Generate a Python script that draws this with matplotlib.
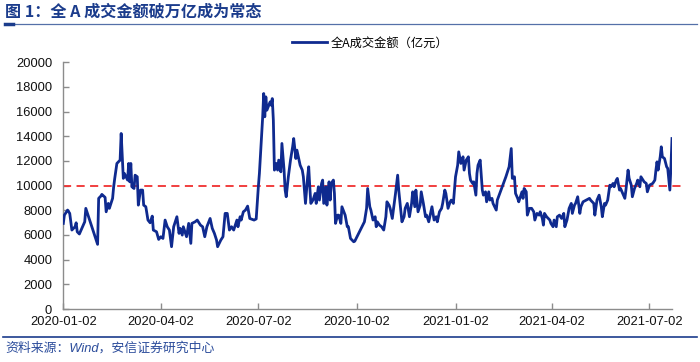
import matplotlib
matplotlib.use("Agg")
import matplotlib.pyplot as plt
from matplotlib.lines import Line2D
import pandas as pd

# ---------------- data ----------------
dates_2020 = [
    "01-02", "01-03", "01-06", "01-08", "01-10", "01-13", "01-14", "01-15", "01-17", "01-20", "01-22", "01-23",
    "02-03", "02-04", "02-06", "02-07", "02-10", "02-11", "02-13", "02-14", "02-17", "02-18", "02-19", "02-21",
    "02-24", "02-25", "02-26", "02-27", "02-28",
    "03-02", "03-03", "03-04", "03-05", "03-06", "03-08", "03-09", "03-11", "03-12", "03-14", "03-16", "03-17",
    "03-19", "03-21", "03-23", "03-25", "03-26", "03-29", "03-31",
    "04-02", "04-04", "04-06", "04-08", "04-10", "04-12", "04-14", "04-17", "04-19", "04-20", "04-22", "04-23",
    "04-26", "04-28", "04-30",
    "05-01", "05-04", "05-06", "05-09", "05-11", "05-13", "05-15", "05-18", "05-20", "05-22", "05-24", "05-25",
    "05-28", "05-30",
    "06-01", "06-03", "06-05", "06-07", "06-09", "06-12", "06-13", "06-15", "06-16", "06-18", "06-20", "06-22",
    "06-24", "06-28", "06-30",
    "07-02", "07-03", "07-06", "07-07", "07-08", "07-09", "07-10", "07-13", "07-14", "07-15", "07-16", "07-17",
    "07-19", "07-20", "07-21", "07-23", "07-24", "07-26", "07-27", "07-28", "07-30",
    "08-01", "08-03", "08-04", "08-06", "08-07", "08-09", "08-10", "08-12", "08-13", "08-15", "08-17", "08-18",
    "08-19", "08-20", "08-22", "08-24", "08-25", "08-27", "08-28", "08-30", "08-31",
    "09-01", "09-03", "09-04", "09-06", "09-07", "09-08", "09-10", "09-11", "09-12", "09-14", "09-15", "09-17",
    "09-18", "09-21", "09-23", "09-24", "09-26", "09-29", "09-30",
    "10-09", "10-11", "10-12", "10-14", "10-15", "10-17", "10-19", "10-20", "10-21", "10-23", "10-25", "10-27",
    "10-29", "10-30",
    "11-01", "11-02", "11-04", "11-06", "11-07", "11-09", "11-10", "11-13", "11-15", "11-16", "11-18", "11-20",
    "11-22", "11-23", "11-25", "11-26", "11-28", "11-30",
    "12-01", "12-03", "12-05", "12-06", "12-08", "12-10", "12-11", "12-13", "12-15", "12-16", "12-18", "12-20",
    "12-21", "12-23", "12-24", "12-26", "12-28", "12-29", "12-31",
]
values_2020 = [
    6940, 7610, 8020, 7750, 6400, 6670, 6990, 6260, 6080, 6670, 7070, 8160,
    5240, 8970, 9150, 9290, 9050, 7880, 8560, 8160, 8970, 9910, 10590, 11800,
    12070, 14230, 12340, 10590, 10990,
    10450, 11800, 10310, 11800, 9910, 9770, 10850, 10720, 8420, 9640, 9640, 8420,
    8290, 7210, 6990, 7530, 6400, 6260, 5640,
    5860, 5720, 7210, 6670, 6400, 5050, 6670, 7480, 6130, 6540, 5990, 6670,
    5860, 6940, 5320,
    6940, 7070, 7210, 6800, 6670, 5860, 6670, 7340, 6540, 6130, 5590, 5050,
    5590, 5860,
    7750, 7750, 6400, 6670, 6400, 7210, 6670, 7480, 7210, 7880, 8020, 8340,
    7340, 7210, 7300,
    9900, 11000, 15500, 17470, 15580, 17200, 16120, 16790, 16520, 17060, 15310, 11260,
    11800, 11260, 12070, 11120, 13420, 11260, 9640, 9100, 10720,
    12070, 13150, 13820, 12200, 12880, 12070, 11660, 11260, 10720, 8560, 10720, 11530,
    9910, 8560, 8830, 9370, 8560, 9910, 8830, 10180, 10450,
    8560, 9910, 8420, 10310, 8830, 10180, 10450, 9370, 6940, 7610, 7610, 6940,
    8290, 7610, 6670, 6670, 5720, 5450, 5500,
    7070, 8160, 9770, 8290, 8020, 7210, 7480, 6670, 7070, 6800, 6670, 6400,
    7480, 8690,
    8420, 8160, 7340, 8690, 9370, 10850, 9640, 7070, 7480, 8160, 8560, 7480,
    8560, 9500, 8290, 9640, 7880, 8420,
    9500, 8560, 7480, 7610, 7070, 7880, 8290, 7210, 7480, 7070, 7880, 8160,
    8560, 9640, 9370, 8160, 8690, 8830, 8560,
]
dates_2021 = [
    "01-02", "01-04", "01-05", "01-07", "01-09", "01-10", "01-12", "01-14", "01-15", "01-16", "01-18", "01-19",
    "01-21", "01-22", "01-23", "01-25", "01-27", "01-28", "01-30", "01-31",
    "02-02", "02-03", "02-05", "02-06", "02-09", "02-10", "02-18", "02-19", "02-21", "02-23", "02-24", "02-26",
    "02-27",
    "03-01", "03-02", "03-04", "03-05", "03-06", "03-07", "03-09", "03-10", "03-12", "03-14", "03-16", "03-17",
    "03-19", "03-21", "03-22", "03-24", "03-25", "03-26", "03-28", "03-31",
    "04-01", "04-03", "04-04", "04-06", "04-07", "04-09", "04-11", "04-13", "04-14", "04-16", "04-18", "04-20",
    "04-21", "04-23", "04-24", "04-26", "04-28", "04-29",
    "05-01", "05-04", "05-07", "05-08", "05-11", "05-12", "05-14", "05-16", "05-18", "05-19", "05-21", "05-22",
    "05-24", "05-26", "05-27", "05-29", "05-30",
    "06-01", "06-02", "06-04", "06-05", "06-07", "06-09", "06-10", "06-12", "06-13", "06-15", "06-16", "06-18",
    "06-20", "06-21", "06-23", "06-24", "06-26", "06-27", "06-29", "06-30",
    "07-02", "07-05", "07-07", "07-08", "07-09", "07-10", "07-12", "07-13", "07-14", "07-16", "07-18", "07-19",
    "07-21", "07-22", "07-23",
]
values_2021 = [
    10720, 11660, 12740, 11800, 12340, 11260, 12070, 12340, 10990, 10450, 10180, 10310,
    9230, 10990, 11660, 12070, 9640, 9230, 9500, 8690,
    9500, 8830, 8970, 8560, 8020, 8830, 10720, 10990, 11530, 13010, 10590, 10720,
    9370,
    8970, 8690, 9230, 9500, 8970, 9770, 9500, 7610, 8160, 8160, 7880, 7210,
    7750, 7610, 7880, 7340, 6800, 7750, 7480, 7210,
    6940, 6670, 7210, 6670, 7480, 7610, 7340, 7750, 6670, 7210, 8160, 8560,
    7750, 8420, 8560, 9100, 7750, 8290,
    8690, 8830, 8970, 8830, 8560, 7610, 8830, 9230, 8290, 7480, 8560, 8420,
    8830, 10040, 9910, 10180, 9910,
    10450, 10590, 9640, 9770, 9370, 8970, 9640, 11260, 10590, 10040, 9100, 9770,
    10180, 10450, 9910, 10720, 10450, 10310, 10180, 9500,
    10040, 10180, 10450, 11260, 11930, 11260, 12340, 13150, 12340, 12200, 11530, 11400,
    9640, 11530, 13820,
]
threshold = 10000
series_name = "全A成交金额（亿元）"
title_text = "图 1：全 A 成交金额破万亿成为常态"
source_text = "资料来源：Wind，安信证券研究中心"
xtick_labels = ["2020-01-02", "2020-04-02", "2020-07-02", "2020-10-02",
                "2021-01-02", "2021-04-02", "2021-07-02"]
yticks = list(range(0, 20001, 2000))

dates = pd.to_datetime(["2020-" + d for d in dates_2020] + ["2021-" + d for d in dates_2021])
values = values_2020 + values_2021

# ---------------- figure ----------------
plt.rcParams['font.family'] = ['Liberation Sans', 'Noto Sans CJK SC', 'DejaVu Sans']
fig = plt.figure(figsize=(7.0, 3.62), dpi=100)
W, H = 700, 362
ax = fig.add_axes([63.3 / W, 1 - 309 / H, (672 - 63.3) / W, (309 - 62.3) / H])

blue = "#0F2A8F"
ax.plot(dates, values, color=blue, lw=2.0, label=series_name, solid_joinstyle='round', zorder=3)
ax.axhline(threshold, xmin=0, xmax=(683 - 63.3) / (672 - 63.3), color="#F03030",
           lw=1.3, dashes=(4.5, 3), clip_on=False, zorder=2)

ax.set_ylim(0, 20000)
ax.set_yticks(yticks)
ax.set_xlim(dates[0], dates[-1])
ax.set_xticks(pd.to_datetime(xtick_labels))
ax.set_xticklabels(xtick_labels)

for s in ["top", "right"]:
    ax.spines[s].set_visible(False)
for s in ["left", "bottom"]:
    ax.spines[s].set_color("#8C8C8C")
    ax.spines[s].set_linewidth(1.0)
ax.tick_params(axis="both", direction="in", length=4, width=1, color="#8C8C8C",
               labelsize=9.3, labelcolor="#111111")
ax.tick_params(axis="y", pad=8)
ax.tick_params(axis="x", pad=5)

leg = ax.legend(loc="center left", bbox_to_anchor=(292 / W, 1 - 43 / H),
                bbox_transform=fig.transFigure, frameon=False, borderpad=0,
                borderaxespad=0, handlelength=2.9, handletextpad=0.3,
                prop={"family": ["Noto Sans CJK SC"], "size": 8.8})

# title and rules
fig.text(5 / W, 1 - 11 / H, title_text, ha="left", va="center", fontsize=11.6,
         fontweight="bold", color="#1B3C8C", family=["Noto Sans CJK SC", "DejaVu Sans"])
fig.add_artist(Line2D([5 / W, 697 / W], [1 - 23.5 / H, 1 - 23.5 / H],
                      transform=fig.transFigure, color="#5470A8", lw=0.9))
fig.add_artist(Line2D([5 / W, 13 / W], [1 - 23.5 / H, 1 - 23.5 / H],
                      transform=fig.transFigure, color="#1B3C8C", lw=2.5))
fig.add_artist(Line2D([3 / W, 697 / W], [1 - 337 / H, 1 - 337 / H],
                      transform=fig.transFigure, color="#1B3C8C", lw=1.2))
fig.text(5 / W, 1 - 348.5 / H, source_text, ha="left", va="center", fontsize=9.3,
         style="italic", color="#2B4C9B", family=["Liberation Sans", "Noto Sans CJK SC"])

fig.savefig("out.png", dpi=100)
